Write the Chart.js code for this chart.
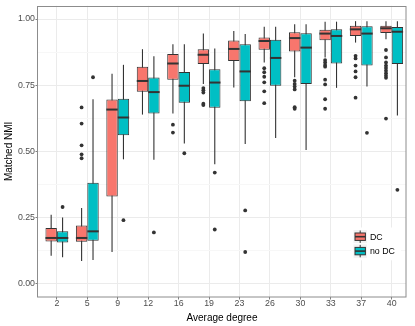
<!DOCTYPE html>
<html><head><meta charset="utf-8">
<script src="https://cdn.jsdelivr.net/npm/chart.js@4.4.0/dist/chart.umd.min.js"></script>
<style>html,body{margin:0;padding:0;background:#fff}canvas{display:block}</style>
</head><body>
<canvas id="c" width="415" height="326"></canvas>
<script>
// ---- data ----
const categories = ['2','5','9','12','16','19','23','26','30','33','37','40'];
const seriesNames = ['DC', 'no DC'];

const dcLow    = [0.106,0.086,0.120,0.639,0.643,0.755,0.741,0.836,0.780,0.855,0.911,0.924];
const dcQ1     = [0.160,0.159,0.330,0.725,0.771,0.830,0.841,0.884,0.877,0.920,0.936,0.947];
const dcMedian = [0.173,0.173,0.658,0.766,0.832,0.865,0.887,0.917,0.928,0.945,0.961,0.965];
const dcQ3     = [0.211,0.220,0.696,0.820,0.868,0.886,0.919,0.930,0.950,0.959,0.975,0.975];
const dcHigh   = [0.261,0.286,0.793,0.886,0.905,0.945,0.955,0.971,0.980,0.990,0.992,0.992];
const dcOutliers = [
  [], [0.666,0.605,0.523,0.489,0.474], [], [], [0.601,0.571],
  [0.739,0.731,0.722,0.680,0.675], [], [0.814,0.799,0.782,0.761,0.727,0.682],
  [0.767,0.755,0.745,0.734,0.667,0.661], [0.845,0.836,0.826,0.820,0.771,0.753,0.697,0.661],
  [0.861,0.851,0.824,0.802,0.780,0.703],
  [0.883,0.855,0.836,0.824,0.815,0.805,0.795,0.786,0.778,0.624]
];

const ndLow    = [0.100,0.090,0.470,0.468,0.530,0.451,0.528,0.551,0.505,0.740,0.745,0.636];
const ndQ1     = [0.156,0.162,0.561,0.643,0.684,0.665,0.689,0.748,0.755,0.832,0.824,0.830];
const ndMedian = [0.173,0.198,0.628,0.724,0.748,0.760,0.802,0.853,0.892,0.936,0.945,0.952];
const ndQ3     = [0.198,0.382,0.699,0.779,0.800,0.810,0.905,0.922,0.946,0.961,0.973,0.970];
const ndHigh   = [0.250,0.697,0.827,0.859,0.905,0.889,0.943,0.971,0.980,0.990,0.992,0.992];
const ndOutliers = [
  [0.290], [0.780], [0.240], [0.194], [0.493], [0.420,0.205], [0.277,0.120],
  [], [], [], [0.570], [0.355]
];

const yTickValues = [0, 0.25, 0.5, 0.75, 1];
const yTickLabels = ['0.00', '0.25', '0.50', '0.75', '1.00'];
const yMinorTicks = [0.125, 0.375, 0.625, 0.875];

// ---- styling ----
const FONT = "'Liberation Sans', Arial, Helvetica, sans-serif";
const COLORS = ['#F8766D', '#00BFC4'];
const INK = '#333333';

function isMajor(v) { return yTickValues.some(t => Math.abs(t - v) < 1e-9); }

const boxPlugin = {
  id: 'boxExtras',
  beforeDatasetsDraw(chart) {
    const ctx = chart.ctx, ys = chart.scales.y;
    ctx.save();
    chart.data.datasets.forEach((ds, d) => {
      const meta = chart.getDatasetMeta(d);
      meta.data.forEach((el, j) => {
        ctx.strokeStyle = INK;
        ctx.lineWidth = 1.1;
        ctx.beginPath();
        ctx.moveTo(el.x, ys.getPixelForValue(ds.stats.low[j]));
        ctx.lineTo(el.x, ys.getPixelForValue(ds.stats.high[j]));
        ctx.stroke();
      });
    });
    ctx.restore();
  },
  afterDatasetsDraw(chart) {
    const ctx = chart.ctx, ys = chart.scales.y;
    ctx.save();
    chart.data.datasets.forEach((ds, d) => {
      const meta = chart.getDatasetMeta(d);
      meta.data.forEach((el, j) => {
        const ym = ys.getPixelForValue(ds.stats.median[j]);
        ctx.strokeStyle = INK;
        ctx.lineWidth = 2;
        ctx.beginPath();
        ctx.moveTo(el.x - el.width / 2, ym);
        ctx.lineTo(el.x + el.width / 2, ym);
        ctx.stroke();
        ctx.fillStyle = INK;
        ds.stats.outliers[j].forEach(o => {
          ctx.beginPath();
          ctx.arc(el.x, ys.getPixelForValue(o), 1.9, 0, Math.PI * 2);
          ctx.fill();
        });
      });
    });
    ctx.restore();
  },
  afterDraw(chart) {
    const ctx = chart.ctx, a = chart.chartArea;
    ctx.save();
    // legend
    const kx = a.right - 53, ky0 = 229.5, ks = 14.4;
    ctx.fillStyle = '#ffffff';
    ctx.fillRect(kx - 2, ky0 - 2, 50, ks * 2 + 4);
    chart.data.datasets.forEach((ds, d) => {
      const ky = ky0 + d * ks;
      ctx.fillStyle = '#f2f2f2';
      ctx.fillRect(kx, ky, ks, ks);
      ctx.strokeStyle = '#ffffff';
      ctx.lineWidth = 1;
      ctx.strokeRect(kx, ky, ks, ks);
      const cx = kx + ks / 2, cy = ky + ks / 2;
      ctx.strokeStyle = INK;
      ctx.lineWidth = 1;
      ctx.beginPath();
      ctx.moveTo(cx, ky + 1); ctx.lineTo(cx, ky + ks - 1);
      ctx.stroke();
      ctx.fillStyle = ds.backgroundColor;
      ctx.fillRect(kx + 2, ky + 3.5, ks - 4, ks - 7);
      ctx.strokeRect(kx + 2, ky + 3.5, ks - 4, ks - 7);
      ctx.lineWidth = 1.6;
      ctx.beginPath();
      ctx.moveTo(kx + 2, cy); ctx.lineTo(kx + ks - 2, cy);
      ctx.stroke();
      ctx.fillStyle = '#000000';
      ctx.font = '8.8px ' + FONT;
      ctx.textAlign = 'left';
      ctx.textBaseline = 'middle';
      ctx.fillText(ds.label, kx + ks + 2.5, cy + 0.5);
    });
    // panel border
    ctx.strokeStyle = '#8c8c8c';
    ctx.lineWidth = 1;
    ctx.strokeRect(Math.round(a.left) - 0.5, Math.round(a.top) + 0.5,
                   Math.round(a.right - a.left) + 0.5, Math.round(a.bottom - a.top) - 0.5);
    ctx.restore();
  }
};

function boxData(q1, q3) { return q1.map((v, i) => ({ x: i, y: [v, q3[i]] })); }

new Chart(document.getElementById('c'), {
  type: 'bar',
  data: {
    datasets: [
      { label: seriesNames[0], data: boxData(dcQ1, dcQ3), backgroundColor: COLORS[0],
        borderColor: INK, borderWidth: 1, borderSkipped: false,
        stats: { low: dcLow, median: dcMedian, high: dcHigh, outliers: dcOutliers } },
      { label: seriesNames[1], data: boxData(ndQ1, ndQ3), backgroundColor: COLORS[1],
        borderColor: INK, borderWidth: 1, borderSkipped: false,
        stats: { low: ndLow, median: ndMedian, high: ndHigh, outliers: ndOutliers } }
    ]
  },
  options: {
    responsive: false,
    animation: false,
    devicePixelRatio: 1,
    categoryPercentage: 0.75,
    barPercentage: 1,
    layout: { padding: { top: 4, right: 9, left: 0, bottom: 0 } },
    plugins: { legend: { display: false }, tooltip: { enabled: false } },
    scales: {
      x: {
        type: 'linear', min: -0.62, max: 11.47, offset: false,
        afterBuildTicks: s => { s.ticks = categories.map((c, i) => ({ value: i })); },
        afterFit: s => { s.height = 29; },
        grid: { offset: false, color: '#ebebeb', lineWidth: 1, tickLength: 2.5,
                tickColor: '#7f7f7f' },
        border: { display: false },
        ticks: { padding: 0, color: '#4d4d4d', font: { family: FONT, size: 8.8, lineHeight: 1 },
                 maxRotation: 0, autoSkip: false,
                 callback: v => categories[v] },
        title: { display: true, text: 'Average degree', color: '#000',
                 font: { family: FONT, size: 10 }, padding: { top: 0, bottom: 2 } }
      },
      y: {
        min: -0.05, max: 1.05,
        afterBuildTicks: s => {
          s.ticks = yTickValues.concat(yMinorTicks).sort((p, q) => p - q).map(v => ({ value: v }));
        },
        afterFit: s => { s.width = 38; },
        grid: {
          color: c => isMajor(c.tick.value) ? '#ebebeb' : '#f7f7f7',
          tickColor: c => isMajor(c.tick.value) ? '#7f7f7f' : 'rgba(0,0,0,0)',
          lineWidth: 1, tickLength: 2.5
        },
        border: { display: false },
        ticks: { padding: 0.5, color: '#4d4d4d', font: { family: FONT, size: 8.8 },
                 callback: v => { const k = yTickValues.findIndex(t => Math.abs(t - v) < 1e-9);
                                  return k >= 0 ? yTickLabels[k] : ''; } },
        title: { display: true, text: 'Matched NMI', color: '#000',
                 font: { family: FONT, size: 10 }, padding: { top: 3, bottom: 0 } }
      }
    }
  },
  plugins: [boxPlugin]
});
</script>
</body></html>
